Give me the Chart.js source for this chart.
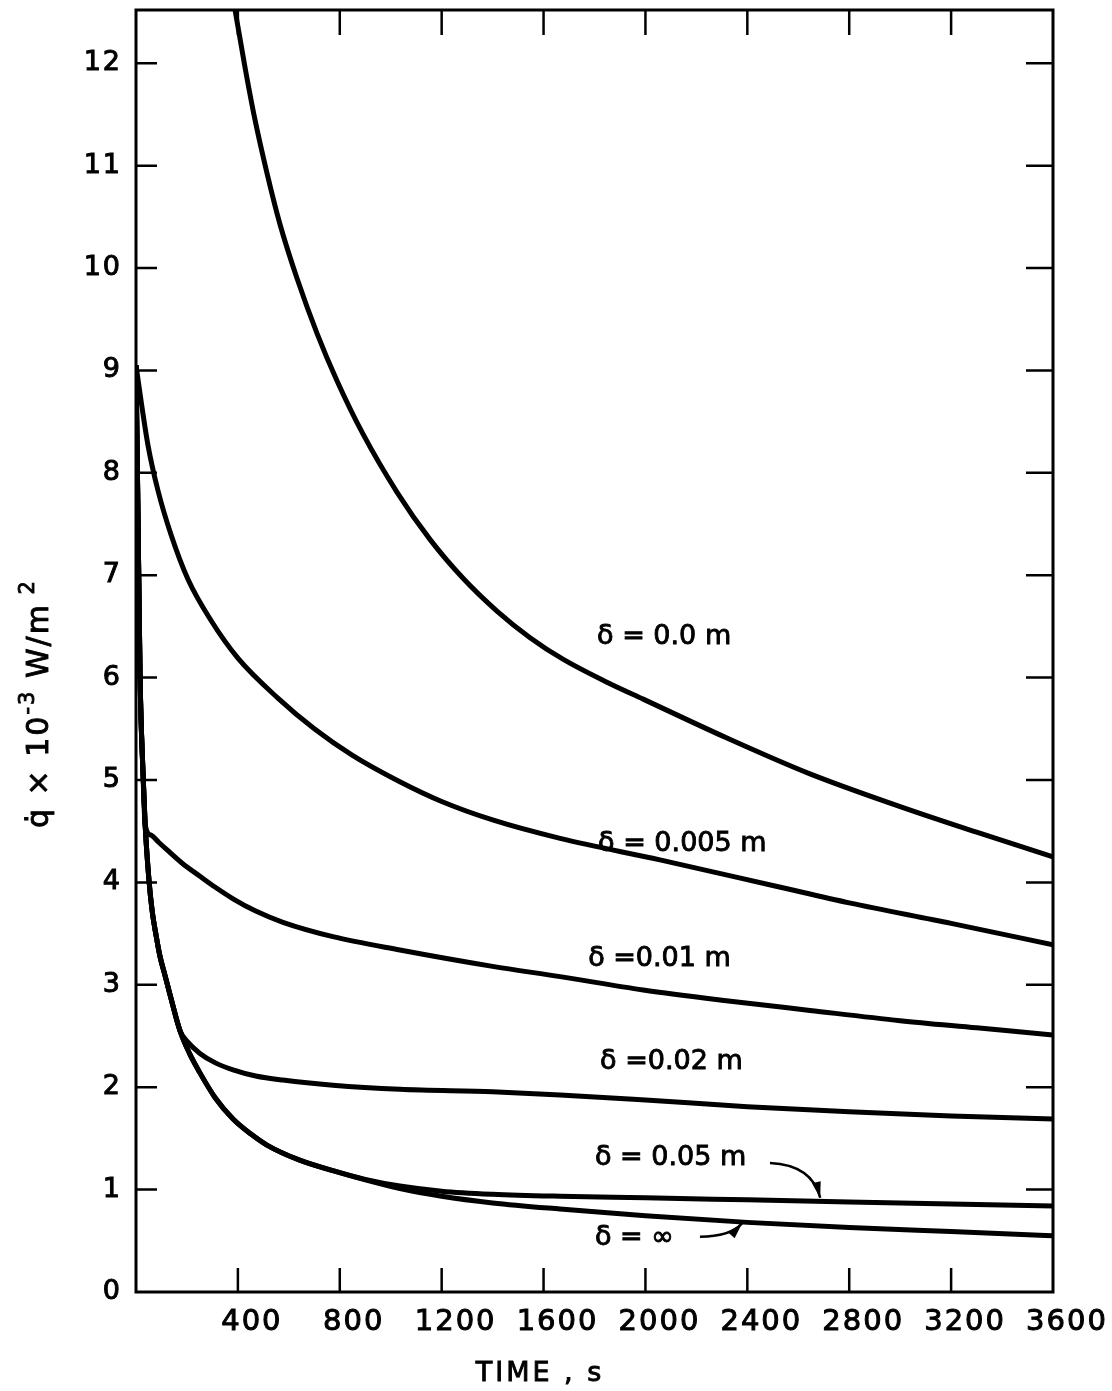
<!DOCTYPE html>
<html>
<head>
<meta charset="utf-8">
<script src="https://cdn.jsdelivr.net/npm/chart.js@4.4.1/dist/chart.umd.min.js"></script>
<style>
	body { margin: 0; background: #fff; }
	#wrapper { width: 1112px; height: 1391px; }
</style>
</head>
<body>
<div id="wrapper"><canvas id="fluxChart" width="1112" height="1391"></canvas></div>
<script>
// time in s, heat flux in units of 10^3 W/m2, one pair of arrays per layer thickness
var tD0    = [370, 389, 428, 467, 514, 565, 632, 711, 789, 891, 1025, 1154, 1284, 1417, 1547, 1676, 1861, 1991, 2320, 2646, 3000, 3300, 3600];
var qD0    = [12.8, 12.52, 11.96, 11.45, 10.93, 10.43, 9.9, 9.36, 8.9, 8.38, 7.81, 7.35, 6.97, 6.65, 6.39, 6.18, 5.94, 5.79, 5.41, 5.06, 4.74, 4.49, 4.25];

var tD005  = [0, 20, 47, 86, 137, 204, 294, 400, 557, 700, 850, 1030, 1200, 1400, 1665, 2057, 2517, 2800, 3200, 3600];
var qD005  = [9.05, 8.7, 8.27, 7.83, 7.4, 6.96, 6.56, 6.19, 5.8, 5.5, 5.24, 4.99, 4.79, 4.61, 4.43, 4.22, 3.96, 3.8, 3.6, 3.39];

var tD01   = [0, 8, 16, 27, 36, 60, 90, 121, 180, 251, 310, 381, 470, 577, 773, 1036, 1400, 1665, 1991, 2300, 2646, 3000, 3300, 3600];
var qD01   = [9.05, 7.54, 6.0, 5.1, 4.56, 4.46, 4.39, 4.32, 4.19, 4.06, 3.955, 3.84, 3.72, 3.61, 3.47, 3.34, 3.18, 3.08, 2.95, 2.85, 2.75, 2.65, 2.58, 2.51];

var tD02   = [0, 8, 16, 27, 36, 51, 63, 79, 94, 114, 133, 173, 200, 251, 310, 381, 470, 577, 773, 1036, 1400, 1665, 2000, 2400, 2800, 3200, 3600];
var qD02   = [9.05, 7.54, 6.0, 5.1, 4.56, 4.02, 3.73, 3.48, 3.28, 3.09, 2.91, 2.55, 2.45, 2.33, 2.24, 2.17, 2.11, 2.07, 2.02, 1.98, 1.955, 1.925, 1.875, 1.81, 1.76, 1.72, 1.69];

var tD05   = [0, 8, 16, 27, 36, 51, 63, 79, 94, 114, 133, 173, 210, 251, 310, 381, 450, 514, 640, 773, 900, 1036, 1200, 1400, 1665, 2000, 2400, 2800, 3200, 3600];
var qD05   = [9.05, 7.54, 6.0, 5.1, 4.56, 4.02, 3.73, 3.48, 3.28, 3.09, 2.91, 2.55, 2.33, 2.14, 1.9, 1.69, 1.545, 1.435, 1.29, 1.185, 1.1, 1.035, 0.985, 0.955, 0.935, 0.92, 0.9, 0.88, 0.86, 0.84];

var tInf   = [0, 8, 16, 27, 36, 51, 63, 79, 94, 114, 133, 173, 210, 251, 310, 381, 450, 514, 640, 773, 900, 1036, 1200, 1400, 1665, 2000, 2400, 2800, 3200, 3600];
var qInf   = [9.05, 7.54, 6.0, 5.1, 4.56, 4.02, 3.73, 3.48, 3.28, 3.09, 2.91, 2.55, 2.33, 2.14, 1.9, 1.69, 1.545, 1.435, 1.29, 1.185, 1.095, 1.01, 0.935, 0.87, 0.81, 0.745, 0.68, 0.63, 0.59, 0.55];

var xTickValues = [400, 800, 1200, 1600, 2000, 2400, 2800, 3200, 3600];
var yTickValues = [0, 1, 2, 3, 4, 5, 6, 7, 8, 9, 10, 11, 12];

var curveNames = ['δ = 0.0 m', 'δ = 0.005 m', 'δ =0.01 m', 'δ =0.02 m', 'δ = 0.05 m', 'δ = ∞'];

// where each name sits (time, flux) and the leader arrows for the two lowest curves
var nameAt = [[1810, 6.33], [1814, 4.31], [1775, 3.18], [1822, 2.18], [1802, 1.24], [1802, 0.46]];
var leaders = [
	[[2489, 1.26], [2654, 1.24], [2686, 0.92]],
	[[2214, 0.54], [2332, 0.54], [2379, 0.67]]
];

function pts(t, q) {
	return t.map(function (v, i) { return { x: v, y: q[i] }; });
}

function curve(t, q) {
	return {
		data: pts(t, q),
		borderColor: '#000',
		borderWidth: 5,
		pointRadius: 0,
		fill: false,
		cubicInterpolationMode: 'monotone',
		clip: 0
	};
}

// draws text a little heavier, like the inked lettering
function inkText(ctx, s, x, y) {
	ctx.fillText(s, x, y);
	ctx.strokeText(s, x, y);
}

var decor = {
	id: 'decor',
	beforeDraw: function (chart) {
		chart.ctx.letterSpacing = '2px';
	},
	beforeDatasetsDraw: function (chart) {
		chart.ctx.letterSpacing = '0px';
	},
	afterDraw: function (chart) {
		var ctx = chart.ctx, a = chart.chartArea;
		var xs = chart.scales.x, ys = chart.scales.y;
		ctx.save();
		ctx.strokeStyle = '#000';
		ctx.fillStyle = '#000';

		// box round the plot
		ctx.lineWidth = 3;
		ctx.strokeRect(a.left, a.top, a.right - a.left, a.bottom - a.top);

		// inward tick marks on all four sides
		ctx.lineWidth = 2.5;
		ctx.beginPath();
		yTickValues.forEach(function (v) {
			if (v <= 0) return;
			var y = ys.getPixelForValue(v);
			ctx.moveTo(a.left, y); ctx.lineTo(a.left + 21, y);
			ctx.moveTo(a.right, y); ctx.lineTo(a.right - 27, y);
		});
		xTickValues.forEach(function (v) {
			if (v >= xs.max) return;
			var x = xs.getPixelForValue(v);
			ctx.moveTo(x, a.bottom); ctx.lineTo(x, a.bottom - 24);
			ctx.moveTo(x, a.top); ctx.lineTo(x, a.top + 25);
		});
		ctx.stroke();

		// curve names
		ctx.lineWidth = 0.9;
		ctx.letterSpacing = '0px';
		ctx.font = '27px "DejaVu Sans"';
		ctx.textAlign = 'left';
		ctx.textBaseline = 'alphabetic';
		curveNames.forEach(function (s, i) {
			inkText(ctx, s, xs.getPixelForValue(nameAt[i][0]), ys.getPixelForValue(nameAt[i][1]));
		});

		// leader arrows
		ctx.lineWidth = 2.5;
		leaders.forEach(function (p) {
			var x0 = xs.getPixelForValue(p[0][0]), y0 = ys.getPixelForValue(p[0][1]);
			var x1 = xs.getPixelForValue(p[1][0]), y1 = ys.getPixelForValue(p[1][1]);
			var x2 = xs.getPixelForValue(p[2][0]), y2 = ys.getPixelForValue(p[2][1]);
			ctx.beginPath();
			ctx.moveTo(x0, y0);
			ctx.quadraticCurveTo(x1, y1, x2, y2);
			ctx.stroke();
			var ang = Math.atan2(y2 - y1, x2 - x1);
			var c = Math.cos(ang), s = Math.sin(ang);
			ctx.beginPath();
			ctx.moveTo(x2, y2);
			ctx.lineTo(x2 - 16 * c + 4.5 * s, y2 - 16 * s - 4.5 * c);
			ctx.lineTo(x2 - 16 * c - 4.5 * s, y2 - 16 * s + 4.5 * c);
			ctx.closePath();
			ctx.fill();
		});

		// x axis title
		ctx.lineWidth = 0.9;
		ctx.letterSpacing = '3px';
		ctx.font = '27px "DejaVu Sans"';
		ctx.textAlign = 'center';
		ctx.textBaseline = 'middle';
		inkText(ctx, 'TIME , s', 540, 1374);

		// y axis title, written bottom to top
		ctx.translate(48, 828);
		ctx.rotate(-Math.PI / 2);
		ctx.textAlign = 'left';
		ctx.textBaseline = 'alphabetic';
		ctx.letterSpacing = '2px';
		var runs = [
			{ s: 'q\u0307 × 10', sup: false },
			{ s: '-3', sup: true },
			{ s: ' W/m', sup: false },
			{ s: ' 2', sup: true }
		];
		var x = 0;
		runs.forEach(function (r) {
			ctx.font = r.sup ? '21px "DejaVu Sans"' : '30px "DejaVu Sans"';
			inkText(ctx, r.s, x, r.sup ? -14 : 0);
			x += ctx.measureText(r.s).width;
		});
		ctx.restore();
	}
};

Chart.defaults.font.family = '"DejaVu Sans"';
Chart.defaults.color = '#000';

new Chart(document.getElementById('fluxChart'), {
	type: 'line',
	data: {
		datasets: [
			curve(tD0, qD0),
			curve(tD005, qD005),
			curve(tD01, qD01),
			curve(tD02, qD02),
			curve(tD05, qD05),
			curve(tInf, qInf)
		]
	},
	options: {
		responsive: false,
		animation: false,
		layout: { padding: { left: 0, top: 10, right: 59, bottom: 0 } },
		plugins: {
			legend: { display: false },
			tooltip: { enabled: false }
		},
		scales: {
			x: {
				type: 'linear',
				min: 0,
				max: 3600,
				grid: { display: false, drawTicks: false },
				border: { display: false },
				afterBuildTicks: function (scale) {
					scale.ticks = xTickValues.map(function (v) { return { value: v }; });
				},
				afterFit: function (scale) {
					scale.height = 99;
					scale.paddingLeft = 0;
					scale.paddingRight = 0;
				},
				ticks: {
					font: { size: 29 },
					padding: 13,
					labelOffset: 14,
					maxRotation: 0,
					autoSkip: false,
					textStrokeColor: '#000',
					textStrokeWidth: 1,
					callback: function (v) { return String(v); }
				}
			},
			y: {
				type: 'linear',
				min: 0,
				max: 12.52,
				grid: { display: false, drawTicks: false },
				border: { display: false },
				afterBuildTicks: function (scale) {
					scale.ticks = yTickValues.map(function (v) { return { value: v }; });
				},
				afterFit: function (scale) {
					scale.width = 136;
					scale.paddingTop = 0;
					scale.paddingBottom = 0;
				},
				ticks: {
					font: { size: 27 },
					padding: 14,
					autoSkip: false,
					textStrokeColor: '#000',
					textStrokeWidth: 1,
					callback: function (v) { return String(v); }
				}
			}
		}
	},
	plugins: [decor]
});
</script>
</body>
</html>
